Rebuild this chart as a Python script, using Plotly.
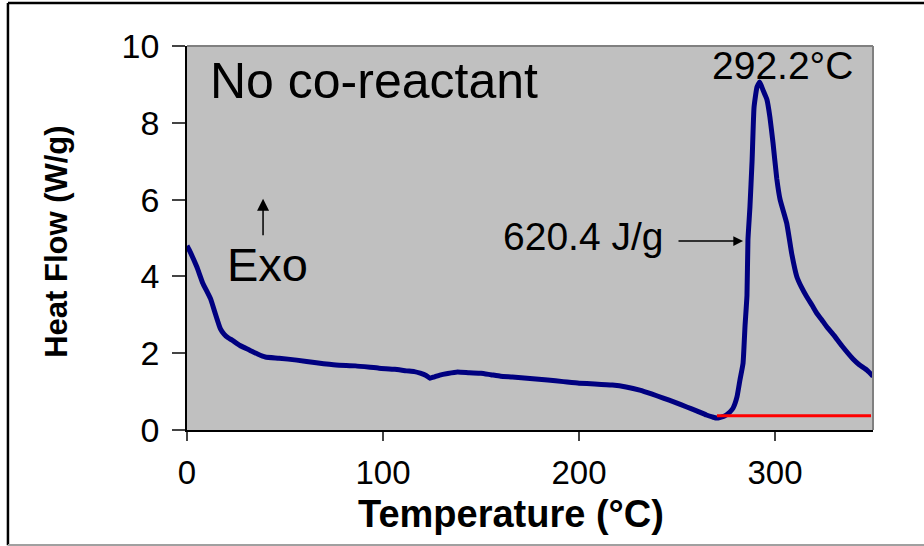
import plotly.graph_objects as go

# DSC trace, no co-reactant: temperature (°C) vs heat flow (W/g)
temperature = [0, 1.5, 5, 8, 12, 14.5, 17, 19, 21, 23, 27, 32, 36, 40, 47, 56, 66, 76,
               86, 98, 106, 112, 116, 119, 122, 124, 126, 129, 133, 138, 144, 150,
               155, 160, 166, 175, 184, 192, 200, 208, 217, 224, 231, 237, 243, 249,
               255, 260, 265, 268, 270.4, 274, 277, 278.6, 280.6, 282.1, 283.7, 284.7,
               285.7, 286.2, 287.2, 288.3, 289.3, 290.8, 292.2, 293.9, 295.9, 297.4,
               299.0, 300.9, 302.6, 306.0, 308.5, 311.1, 313.5, 316.2, 319, 321.3,
               324, 326.4, 330, 334, 339.8, 343, 346.9, 350]
heat_flow = [4.8, 4.65, 4.25, 3.83, 3.42, 3.02, 2.64, 2.49, 2.4, 2.34, 2.2, 2.08, 1.98,
             1.9, 1.87, 1.82, 1.75, 1.69, 1.67, 1.61, 1.58, 1.54, 1.52, 1.48, 1.42,
             1.35, 1.38, 1.43, 1.47, 1.51, 1.49, 1.48, 1.44, 1.40, 1.38, 1.34, 1.30,
             1.26, 1.22, 1.20, 1.17, 1.12, 1.04, 0.94, 0.83, 0.72, 0.60, 0.50, 0.39,
             0.34, 0.31, 0.36, 0.47, 0.57, 0.86, 1.3, 1.74, 2.7, 3.5, 4.95, 5.8, 7.0,
             8.4, 8.93, 9.06, 8.85, 8.6, 8.15, 7.47, 6.55, 6.0, 5.38, 4.6, 4.0, 3.72,
             3.47, 3.24, 3.04, 2.86, 2.69, 2.47, 2.2, 1.85, 1.7, 1.56, 1.4]

# Integration baseline under the exotherm
baseline_t = [270.4, 349]
baseline_hf = [0.37, 0.37]

peak_label = "292.2°C"
enthalpy_label = "620.4 J/g"
title_label = "No co-reactant"

x_ticks = [0, 100, 200, 300]
y_ticks = [0, 2, 4, 6, 8, 10]

FONT = "Liberation Sans, Arial, sans-serif"

fig = go.Figure()
fig.add_trace(go.Scatter(x=temperature, y=heat_flow, mode="lines",
                         line=dict(color="#000080", width=5, shape="spline",
                                   smoothing=0.4),
                         showlegend=False, hoverinfo="skip"))
fig.add_trace(go.Scatter(x=baseline_t, y=baseline_hf, mode="lines",
                         line=dict(color="#FF0000", width=3),
                         showlegend=False, hoverinfo="skip"))

fig.update_layout(
    width=924, height=546,
    margin=dict(l=187, r=51, t=46, b=116),
    paper_bgcolor="white",
    plot_bgcolor="#C0C0C0",
    font=dict(family=FONT, color="black"),
    xaxis=dict(range=[0, 350], tickvals=x_ticks, showgrid=False, zeroline=False,
               showline=True, linecolor="black", linewidth=1.5,
               ticks="outside", ticklen=9, tickwidth=1.5, tickcolor="#444444",
               ticklabelstandoff=4,
               tickfont=dict(size=33, family=FONT)),
    yaxis=dict(range=[0, 10], tickvals=y_ticks, showgrid=False, zeroline=False,
               showline=True, linecolor="black", linewidth=1.5,
               ticks="outside", ticklen=13, tickwidth=1.5, tickcolor="#444444",
               ticklabelstandoff=6,
               tickfont=dict(size=34, family=FONT)),
)

# gray top/right edges of the plot area and the outer chart frame
fig.add_shape(type="line", xref="paper", yref="paper", x0=0, x1=1, y0=1, y1=1,
              line=dict(color="#808080", width=2))
fig.add_shape(type="line", xref="paper", yref="paper", x0=1, x1=1, y0=0, y1=1,
              line=dict(color="#808080", width=2))
fig.add_shape(type="line", xref="paper", yref="paper", x0=-0.261, x1=1.08,
              y0=1.112, y1=1.112, line=dict(color="black", width=2.5))
fig.add_shape(type="line", xref="paper", yref="paper", x0=-0.261, x1=-0.261,
              y0=1.112, y1=-0.30, line=dict(color="black", width=2.5))
fig.add_shape(type="line", xref="paper", yref="paper", x0=-0.261, x1=1.08,
              y0=-0.2995, y1=-0.2995, line=dict(color="#A0A0A0", width=2))

# axis titles
fig.add_annotation(x=0.473, y=-0.218, xref="paper", yref="paper",
                   text="<b>Temperature (°C)</b>", showarrow=False,
                   xanchor="center", yanchor="middle",
                   font=dict(size=38, family=FONT, color="black"))
fig.add_annotation(x=-0.1895, y=0.49, xref="paper", yref="paper",
                   text="<b>Heat Flow (W/g)</b>", showarrow=False, textangle=-90,
                   xanchor="center", yanchor="middle",
                   font=dict(size=31, family=FONT, color="black"))

fig.add_annotation(x=10.5, y=9.1, xref="x", yref="y", text=title_label,
                   showarrow=False, xanchor="left", yanchor="middle",
                   font=dict(size=50, family=FONT, color="black"))
fig.add_annotation(x=303.6, y=9.48, xref="x", yref="y", text=peak_label,
                   showarrow=False, xanchor="center", yanchor="middle",
                   font=dict(size=39, family=FONT, color="black"))
fig.add_annotation(x=244, y=5.05, xref="x", yref="y", text=enthalpy_label,
                   showarrow=False, xanchor="right", yanchor="middle",
                   font=dict(size=39, family=FONT, color="black"))
fig.add_annotation(x=283.7, y=4.92, xref="x", yref="y", ax=250, ay=4.92,
                   axref="x", ayref="y", text="", showarrow=True, arrowhead=2,
                   arrowsize=1.3, arrowwidth=1.5, arrowcolor="black")
fig.add_annotation(x=38.8, y=6.02, xref="x", yref="y", ax=38.8, ay=5.03,
                   axref="x", ayref="y", text="", showarrow=True, arrowhead=2,
                   arrowsize=1.6, arrowwidth=1.5, arrowcolor="black")
fig.add_annotation(x=41, y=4.3, xref="x", yref="y", text="Exo", showarrow=False,
                   xanchor="center", yanchor="middle",
                   font=dict(size=47, family=FONT, color="black"))

fig.write_html("out.html")
